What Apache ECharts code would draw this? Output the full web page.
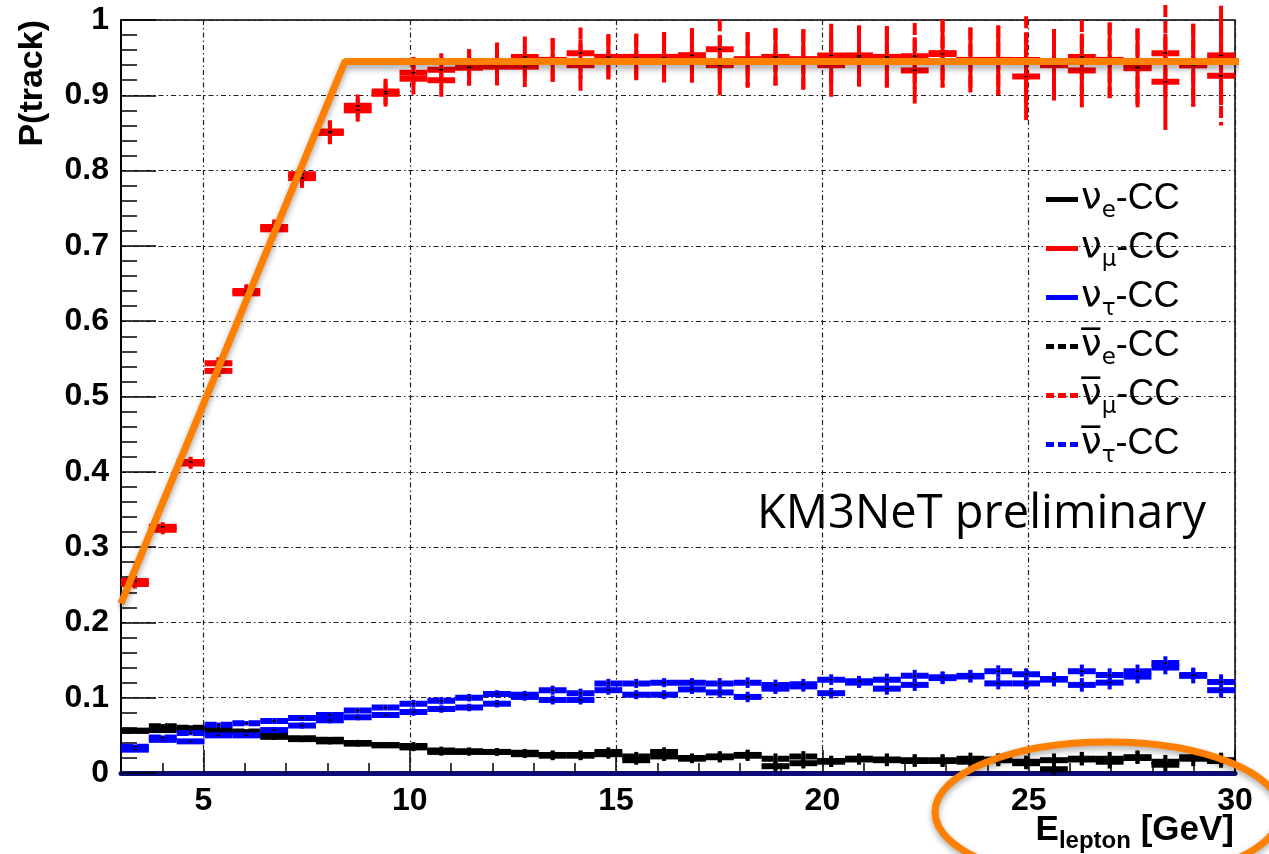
<!DOCTYPE html>
<html>
<head>
<meta charset="utf-8">
<script src="https://cdn.jsdelivr.net/npm/echarts@6/dist/echarts.min.js"></script>
<style>
  html, body { margin: 0; padding: 0; background: #fff; }
  #chart { width: 1269px; height: 854px; }
</style>
</head>
<body>
<div id="chart"></div>
<script>
// 40 energy bins between 3 and 30 GeV
const eMin = 3;
const eMax = 30;
const nBins = 40;
const binEdges = Array.from({ length: nBins + 1 }, (_, i) => eMin + (i * (eMax - eMin)) / nBins);

const xLabels = [5, 10, 15, 20, 25, 30];

// P(track) per bin
const nueCC = [0.056, 0.057, 0.059, 0.055, 0.054, 0.048, 0.045, 0.042, 0.039, 0.037,
  0.034, 0.028, 0.028, 0.028, 0.025, 0.023, 0.023, 0.025, 0.017, 0.022,
  0.019, 0.022, 0.024, 0.009, 0.013, 0.015, 0.019, 0.017, 0.017, 0.016,
  0.015, 0.017, 0.013, 0.017, 0.019, 0.015, 0.021, 0.011, 0.019, 0.017];
const numuCC = [0.251, 0.323, 0.411, 0.534, 0.637, 0.722, 0.790, 0.850, 0.880, 0.902,
  0.922, 0.920, 0.937, 0.938, 0.938, 0.947, 0.940, 0.951, 0.951, 0.951,
  0.953, 0.940, 0.948, 0.951, 0.948, 0.940, 0.953, 0.951, 0.933, 0.956,
  0.947, 0.947, 0.925, 0.940, 0.933, 0.947, 0.936, 0.918, 0.940, 0.953];
const nutauCC = [0.031, 0.044, 0.042, 0.050, 0.050, 0.057, 0.063, 0.070, 0.074, 0.077,
  0.081, 0.085, 0.087, 0.092, 0.101, 0.097, 0.097, 0.110, 0.104, 0.104,
  0.111, 0.107, 0.101, 0.112, 0.115, 0.106, 0.120, 0.112, 0.117, 0.126,
  0.129, 0.119, 0.119, 0.124, 0.117, 0.120, 0.128, 0.140, 0.129, 0.110];
const anueCC = [0.056, 0.062, 0.060, 0.058, 0.055, 0.050, 0.046, 0.044, 0.040, 0.037,
  0.036, 0.030, 0.029, 0.028, 0.027, 0.024, 0.024, 0.028, 0.022, 0.028,
  0.020, 0.021, 0.023, 0.019, 0.022, 0.016, 0.018, 0.018, 0.016, 0.017,
  0.019, 0.018, 0.015, 0.005, 0.018, 0.019, 0.020, 0.015, 0.021, 0.016];
const anumuCC = [0.255, 0.327, 0.413, 0.544, 0.640, 0.725, 0.795, 0.852, 0.886, 0.905,
  0.930, 0.934, 0.937, 0.945, 0.951, 0.947, 0.956, 0.951, 0.950, 0.950,
  0.953, 0.961, 0.946, 0.951, 0.947, 0.953, 0.951, 0.950, 0.952, 0.955,
  0.947, 0.946, 0.947, 0.941, 0.951, 0.946, 0.937, 0.956, 0.940, 0.926];
const anutauCC = [0.035, 0.047, 0.053, 0.064, 0.066, 0.069, 0.073, 0.077, 0.083, 0.087,
  0.092, 0.096, 0.100, 0.105, 0.104, 0.110, 0.106, 0.119, 0.119, 0.120,
  0.120, 0.119, 0.120, 0.117, 0.118, 0.124, 0.122, 0.124, 0.129, 0.127,
  0.128, 0.135, 0.131, 0.125, 0.135, 0.130, 0.135, 0.146, 0.130, 0.121];

// statistical errors
const errMu = [0.006, 0.006, 0.007, 0.008, 0.009, 0.010, 0.013, 0.015, 0.015, 0.017,
  0.021, 0.022, 0.024, 0.025, 0.027, 0.029, 0.034, 0.030, 0.031, 0.033,
  0.036, 0.040, 0.036, 0.038, 0.040, 0.042, 0.040, 0.041, 0.044, 0.045,
  0.043, 0.046, 0.058, 0.047, 0.049, 0.050, 0.052, 0.064, 0.055, 0.066];
const errLight = [0.003, 0.003, 0.003, 0.003, 0.003, 0.004, 0.004, 0.004, 0.004, 0.004,
  0.005, 0.005, 0.005, 0.005, 0.005, 0.006, 0.006, 0.006, 0.006, 0.006,
  0.006, 0.007, 0.007, 0.007, 0.007, 0.007, 0.007, 0.008, 0.008, 0.008,
  0.008, 0.008, 0.008, 0.009, 0.009, 0.009, 0.009, 0.009, 0.010, 0.010];

// hand-drawn orange guide line
const guideX = [3, 8.43, 30.15];
const guideY = [0.225, 0.945, 0.945];

const legendText = {
  nue: '{nu|ν}{sub|e}{cc|-CC}',
  numu: '{nu|ν}{sub|μ}{cc|-CC}',
  nutau: '{nu|ν}{sub|τ}{cc|-CC}',
  anue: '{nu|ν\u0305}{sub|e}{cc|-CC}',
  anumu: '{nu|ν\u0305}{sub|μ}{cc|-CC}',
  anutau: '{nu|ν\u0305}{sub|τ}{cc|-CC}'
};

const solidIcon = 'path://M0,0h32v5h-32z';
const dashIcon = 'path://M0,0h8v5h-8zM12,0h8v5h-8zM24,0h8v5h-8z';

function histData(values, errs) {
  return values.map((v, i) => [binEdges[i], binEdges[i + 1], v, errs[i]]);
}

function histSeries(name, values, errs, color, dashed) {
  const dash = dashed ? [12, 4] : null;
  return {
    name: name,
    type: 'custom',
    data: histData(values, errs),
    encode: { x: [0, 1], y: 2 },
    itemStyle: { color: color },
    renderItem: (params, api) => {
      const lo = api.value(0);
      const hi = api.value(1);
      const v = api.value(2);
      const e = api.value(3);
      const mid = (lo + hi) / 2;
      const a = api.coord([lo, v]);
      const b = api.coord([hi, v]);
      const top = api.coord([mid, v + e]);
      const bot = api.coord([mid, v - e]);
      const c = api.coord([mid, v]);
      return {
        type: 'group',
        children: [
          {
            type: 'line',
            shape: { x1: a[0], y1: a[1], x2: b[0], y2: b[1] },
            style: { stroke: color, lineWidth: 6, lineDash: dash }
          },
          {
            type: 'line',
            shape: { x1: top[0], y1: top[1], x2: bot[0], y2: bot[1] },
            style: { stroke: color, lineWidth: 4, lineDash: dash }
          },
          {
            type: 'line',
            shape: { x1: c[0] - 2, y1: c[1], x2: c[0] + 2, y2: c[1] },
            style: { stroke: '#000', lineWidth: 1.5 }
          }
        ]
      };
    }
  };
}

const chart = echarts.init(document.getElementById('chart'));

const gridLine = { color: '#222', width: 1.2, type: [5, 3, 1.5, 3] };
const boldFont = 'Liberation Sans';

chart.setOption({
  animation: false,
  backgroundColor: '#fff',
  grid: {
    left: 121,
    right: 34,
    top: 20,
    bottom: 81,
    show: true,
    borderColor: '#000',
    borderWidth: 1.5
  },
  xAxis: [
    {
      type: 'value',
      min: eMin,
      max: eMax,
      axisLine: { show: true, lineStyle: { color: '#0c0c78', width: 5 } },
      axisTick: {
        show: true,
        inside: true,
        length: 23,
        customValues: xLabels,
        lineStyle: { color: '#000', width: 1.5 }
      },
      axisLabel: {
        customValues: xLabels,
        color: '#000',
        fontFamily: boldFont,
        fontWeight: 'bold',
        fontSize: 32,
        margin: 12
      },
      splitLine: { show: true, lineStyle: gridLine }
    },
    {
      type: 'value',
      position: 'bottom',
      min: eMin,
      max: eMax,
      interval: 1,
      axisLine: { show: false },
      axisLabel: { show: false },
      splitLine: { show: false },
      axisTick: { show: true, inside: true, length: 10, lineStyle: { color: '#000', width: 1.5 } }
    }
  ],
  yAxis: {
    type: 'value',
    min: 0,
    max: 1,
    interval: 0.1,
    axisLine: { show: true, lineStyle: { color: '#000', width: 2 } },
    axisTick: { show: true, inside: true, length: 35, lineStyle: { color: '#000', width: 1.5 } },
    minorTick: { show: true, splitNumber: 5, length: 16, lineStyle: { color: '#000', width: 1.5 } },
    axisLabel: {
      color: '#000',
      fontFamily: boldFont,
      fontWeight: 'bold',
      fontSize: 32,
      margin: 12
    },
    splitLine: { show: true, lineStyle: gridLine }
  },
  legend: {
    orient: 'vertical',
    left: 1041,
    top: 171,
    itemWidth: 32,
    itemHeight: 5,
    itemGap: 2,
    selectedMode: false,
    data: [
      { name: 'nue', icon: solidIcon },
      { name: 'numu', icon: solidIcon },
      { name: 'nutau', icon: solidIcon },
      { name: 'anue', icon: dashIcon },
      { name: 'anumu', icon: dashIcon },
      { name: 'anutau', icon: dashIcon }
    ],
    formatter: (name) => legendText[name],
    textStyle: {
      padding: [0, 0, 0, -2],
      rich: {
        nu: { fontFamily: 'DejaVu Sans', fontSize: 37, color: '#000', lineHeight: 41 },
        sub: { fontFamily: 'DejaVu Sans', fontSize: 23, color: '#000', padding: [24, 0, 0, 0], lineHeight: 41 },
        cc: { fontFamily: 'Liberation Sans', fontSize: 36, color: '#000', lineHeight: 41 }
      }
    }
  },
  graphic: [
    {
      type: 'text',
      x: 33,
      y: 20,
      rotation: Math.PI / 2,
      style: {
        text: 'P(track)',
        fontFamily: boldFont,
        fontWeight: 'bold',
        fontSize: 34,
        fill: '#000',
        align: 'right',
        verticalAlign: 'middle'
      }
    },
    {
      type: 'text',
      x: 1234,
      y: 830,
      style: {
        text: '{b|E}{s|lepton}{b| [GeV]}',
        align: 'right',
        verticalAlign: 'middle',
        rich: {
          b: { fontFamily: boldFont, fontWeight: 'bold', fontSize: 35, fill: '#000' },
          s: { fontFamily: boldFont, fontWeight: 'bold', fontSize: 24, fill: '#000', padding: [22, 0, 0, 0] }
        }
      }
    },
    {
      type: 'text',
      x: 757,
      y: 515,
      style: {
        text: 'KM3NeT preliminary',
        fontFamily: 'Open Sans',
        fontSize: 47,
        fill: '#000',
        align: 'left',
        verticalAlign: 'middle'
      }
    },
    {
      type: 'ellipse',
      shape: { cx: 1108, cy: 812, rx: 173, ry: 70 },
      style: {
        fill: 'none',
        stroke: '#ff7f00',
        lineWidth: 7,
        shadowBlur: 6,
        shadowColor: 'rgba(0,0,0,0.35)',
        shadowOffsetY: 3
      },
      z: 100
    }
  ],
  series: [
    histSeries('nue', nueCC, errLight, '#000000', false),
    histSeries('anue', anueCC, errLight, '#000000', true),
    histSeries('nutau', nutauCC, errLight, '#0000ff', false),
    histSeries('anutau', anutauCC, errLight, '#0000ff', true),
    histSeries('numu', numuCC, errMu, '#ff0000', false),
    histSeries('anumu', anumuCC, errMu, '#ff0000', true),
    {
      name: 'guide',
      type: 'line',
      data: guideX.map((x, i) => [x, guideY[i]]),
      symbol: 'none',
      clip: false,
      z: 10,
      lineStyle: {
        color: '#ff7f00',
        width: 7,
        shadowBlur: 6,
        shadowColor: 'rgba(0,0,0,0.35)',
        shadowOffsetY: 4
      }
    }
  ]
});
</script>
</body>
</html>
